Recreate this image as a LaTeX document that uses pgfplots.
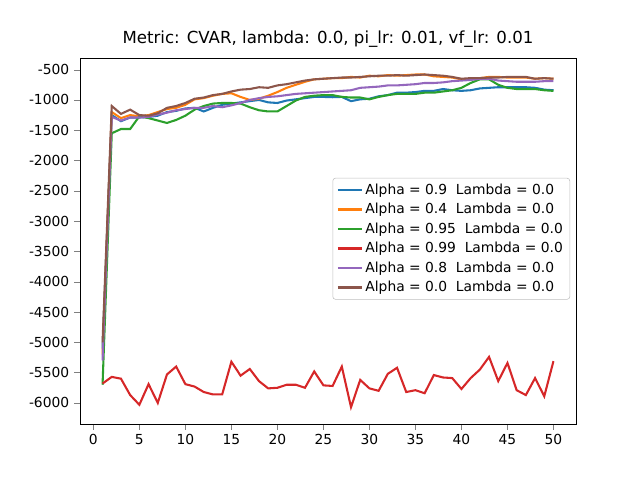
\documentclass[border=0pt]{standalone}
\usepackage{pgfplots}
\pgfplotsset{compat=1.18}
\usepackage{fontspec}
\setmainfont{DejaVu Sans}
\definecolor{c0}{HTML}{1F77B4}\definecolor{c1}{HTML}{FF7F0E}\definecolor{c2}{HTML}{2CA02C}
\definecolor{c3}{HTML}{D62728}\definecolor{c4}{HTML}{9467BD}\definecolor{c5}{HTML}{8C564B}
\pgfplotstableread{
x a b c d e f
1 -5100 -5200 -5700 -5680 -5300 -5000
2 -1250 -1200 -1550 -5570 -1280 -1100
3 -1350 -1300 -1480 -5600 -1340 -1230
4 -1290 -1250 -1480 -5870 -1290 -1160
5 -1290 -1270 -1270 -6030 -1290 -1250
6 -1280 -1250 -1300 -5690 -1280 -1260
7 -1260 -1200 -1340 -6000 -1240 -1220
8 -1200 -1150 -1380 -5530 -1210 -1130
9 -1180 -1130 -1330 -5400 -1170 -1100
10 -1140 -1080 -1260 -5690 -1150 -1050
11 -1130 -990 -1160 -5730 -1130 -980
12 -1190 -970 -1100 -5820 -1130 -960
13 -1130 -930 -1060 -5860 -1100 -920
14 -1080 -900 -1050 -5860 -1120 -900
15 -1060 -890 -1050 -5320 -1090 -860
16 -1040 -950 -1060 -5550 -1050 -830
17 -1020 -1000 -1120 -5440 -1000 -820
18 -1000 -980 -1170 -5640 -970 -790
19 -1040 -930 -1190 -5760 -950 -800
20 -1050 -870 -1190 -5750 -940 -760
21 -1010 -800 -1100 -5700 -920 -740
22 -990 -750 -1010 -5700 -900 -710
23 -970 -700 -950 -5750 -890 -680
24 -950 -660 -930 -5480 -880 -660
25 -950 -650 -920 -5710 -870 -650
26 -955 -640 -920 -5720 -860 -640
27 -950 -640 -950 -5400 -850 -630
28 -1020 -620 -960 -6070 -840 -630
29 -990 -630 -960 -5620 -800 -620
30 -980 -600 -990 -5760 -790 -610
31 -940 -610 -950 -5800 -780 -600
32 -920 -590 -920 -5520 -760 -600
33 -880 -600 -900 -5420 -760 -590
34 -880 -590 -900 -5820 -750 -600
35 -870 -580 -900 -5790 -740 -590
36 -850 -580 -880 -5840 -720 -580
37 -850 -610 -880 -5540 -720 -590
38 -820 -620 -860 -5580 -710 -600
39 -840 -630 -840 -5590 -690 -620
40 -850 -660 -800 -5770 -680 -650
41 -840 -660 -720 -5590 -670 -640
42 -810 -640 -660 -5450 -650 -640
43 -800 -620 -660 -5240 -650 -630
44 -790 -620 -750 -5640 -680 -630
45 -790 -630 -800 -5340 -690 -620
46 -790 -630 -820 -5790 -700 -620
47 -790 -630 -820 -5870 -700 -620
48 -800 -650 -820 -5590 -700 -650
49 -830 -640 -840 -5890 -690 -640
50 -840 -650 -850 -5310 -690 -650
}\data
\begin{document}
\begin{tikzpicture}
\begin{axis}[scale only axis, width=4.96in, height=3.66in,
 xmin=-1.45, xmax=52.45, ymin=-6345, ymax=-305,
 xtick={0,5,...,50}, ytick={-6000,-5500,...,-500},
 /pgf/number format/assume math mode=true,
 yticklabel style={/pgf/number format/.cd, fixed, 1000 sep={}},
 tick label style={font=\fontsize{10}{12}\selectfont},
 tick align=outside, tick pos=left, clip=false,
 title={Metric: CVAR, lambda: 0.0, pi\_lr: 0.01, vf\_lr: 0.01},
 title style={font=\fontsize{12}{14}\selectfont, yshift=-2pt},
 legend style={at={(0.988,0.672)}, anchor=north east, font=\fontsize{10}{12}\selectfont, draw=black!25, rounded corners=2pt, row sep=1pt},
 legend cell align=left,
 every axis plot/.append style={line width=1.5pt}]
\addplot[c0] table[x=x,y=a]{\data}; \addlegendentry{Alpha = 0.9\ \ Lambda = 0.0}
\addplot[c1] table[x=x,y=b]{\data}; \addlegendentry{Alpha = 0.4\ \ Lambda = 0.0}
\addplot[c2] table[x=x,y=c]{\data}; \addlegendentry{Alpha = 0.95\ \ Lambda = 0.0}
\addplot[c3] table[x=x,y=d]{\data}; \addlegendentry{Alpha = 0.99\ \ Lambda = 0.0}
\addplot[c4] table[x=x,y=e]{\data}; \addlegendentry{Alpha = 0.8\ \ Lambda = 0.0}
\addplot[c5] table[x=x,y=f]{\data}; \addlegendentry{Alpha = 0.0\ \ Lambda = 0.0}
\path (rel axis cs:-0.1613,-0.153) rectangle (rel axis cs:1.129,1.158);
\end{axis}
\end{tikzpicture}
\end{document}
